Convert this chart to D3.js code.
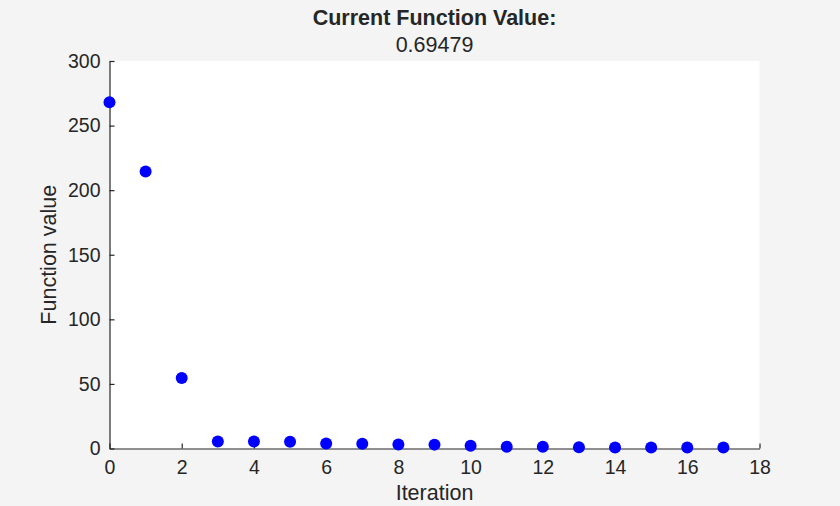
<!DOCTYPE html>
<html><head><meta charset="utf-8">
<script src="https://cdn.jsdelivr.net/npm/d3@7"></script>
<style>body{margin:0;background:#f4f4f4;} text{font-family:"Liberation Sans",Arial,sans-serif;fill:#262626;}</style>
</head><body>
<svg id="c" width="840" height="506"></svg>
<script>
const iterations = [0,1,2,3,4,5,6,7,8,9,10,11,12,13,14,15,16,17];
const fvals = [268, 214.5, 54.5, 5.5, 5.4, 5.3, 3.8, 3.7, 3.1, 3.0, 2.2, 1.4, 1.3, 0.9, 0.85, 0.8, 0.75, 0.69479];
const xTicks = [0,2,4,6,8,10,12,14,16,18];
const yTicks = [0,50,100,150,200,250,300];
const title = "Current Function Value:";
const subtitle = "0.69479";

const svg = d3.select("#c");
const L=109.5, R=759.5, T=61, B=448.5;
const x = d3.scaleLinear().domain([0,18]).range([L,R]);
const y = d3.scaleLinear().domain([0,300]).range([B,T]);

svg.append("rect").attr("x",L).attr("y",T).attr("width",R-L).attr("height",B-T).attr("fill","#fff");

const xa = svg.append("g").attr("transform",`translate(0,${B})`)
  .call(d3.axisBottom(x).tickValues(xTicks).tickSizeInner(-5).tickSizeOuter(0).tickPadding(12).tickFormat(d3.format("d")));
const ya = svg.append("g").attr("transform",`translate(${L},0)`)
  .call(d3.axisLeft(y).tickValues(yTicks).tickSizeInner(-5).tickSizeOuter(0).tickPadding(9).tickFormat(d3.format("d")));
[xa,ya].forEach(a=>{
  a.attr("font-size",19.5).attr("font-family","Liberation Sans, Arial, sans-serif");
  a.selectAll("path,line").attr("stroke","#262626").attr("stroke-width",1.2);
  a.selectAll("text").attr("fill","#262626");
});

svg.append("g").selectAll("circle").data(iterations).join("circle")
  .attr("cx",d=>x(d)).attr("cy",(d,i)=>y(fvals[i])).attr("r",6).attr("fill","#0000ff");

svg.append("text").attr("x",(L+R)/2).attr("y",25).attr("text-anchor","middle").attr("font-size",21.5).attr("font-weight","bold").text(title);
svg.append("text").attr("x",(L+R)/2).attr("y",52).attr("text-anchor","middle").attr("font-size",21.5).text(subtitle);
svg.append("text").attr("x",(L+R)/2).attr("y",500).attr("text-anchor","middle").attr("font-size",21.5).text("Iteration");
svg.append("text").attr("transform",`translate(56,${(T+B)/2}) rotate(-90)`).attr("text-anchor","middle").attr("font-size",21.5).text("Function value");
</script>
</body></html>
